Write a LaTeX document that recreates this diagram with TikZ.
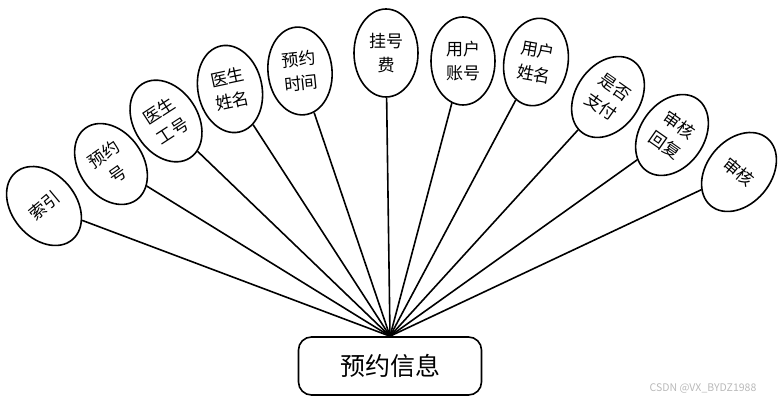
\documentclass[tikz,border=0pt]{standalone}
\usepackage{fontspec}
\setmainfont{Noto Sans CJK SC}
\usetikzlibrary{shapes.geometric}

\begin{document}
\begin{tikzpicture}[x=1pt,y=-1pt,font=\fontsize{17}{24}\selectfont,
 attr/.style={draw,ellipse,line width=1.6pt,inner sep=0pt,minimum width=64pt,minimum height=88pt,align=center},
 entity/.style={draw,rounded corners=13pt,line width=1.6pt,minimum width=183pt,minimum height=58pt,font=\fontsize{25}{30}\selectfont},
 link/.style={line width=1.6pt}]
\useasboundingbox (0,0) rectangle (780,403);
\node[entity] (appt) at (390,366) {预约信息};
\node[attr,rotate=40] (idx) at (44,206) {索引};
\node[attr,rotate=35] (apptno) at (111,164) {预约\\号};
\node[attr,rotate=33] (docno) at (166,121) {医生\\工号};
\node[attr,rotate=12] (docname) at (230,89) {医生\\姓名};
\node[attr,rotate=6] (appttime) at (300,71) {预约\\时间};
\node[attr] (fee) at (386,53) {挂号\\费};
\node[attr] (userno) at (463,61) {用户\\账号};
\node[attr,rotate=-10] (username) at (536,62) {用户\\姓名};
\node[attr,rotate=-35] (paid) at (608,97) {是否\\支付};
\node[attr,rotate=-35] (reply) at (672,135) {审核\\回复};
\node[attr,rotate=-40] (audit) at (739,172) {审核};
\draw[link] (appt.north) -- (idx);\draw[link] (appt.north) -- (apptno);
\draw[link] (appt.north) -- (docno);\draw[link] (appt.north) -- (docname);
\draw[link] (appt.north) -- (appttime);\draw[link] (appt.north) -- (fee);
\draw[link] (appt.north) -- (userno);\draw[link] (appt.north) -- (username);
\draw[link] (appt.north) -- (paid);\draw[link] (appt.north) -- (reply);
\draw[link] (appt.north) -- (audit);
\node[font=\fontsize{10.5}{12}\selectfont,text=gray!55] (mark) at (703,388) {CSDN @VX\_BYDZ1988};
\end{tikzpicture}
\end{document}
